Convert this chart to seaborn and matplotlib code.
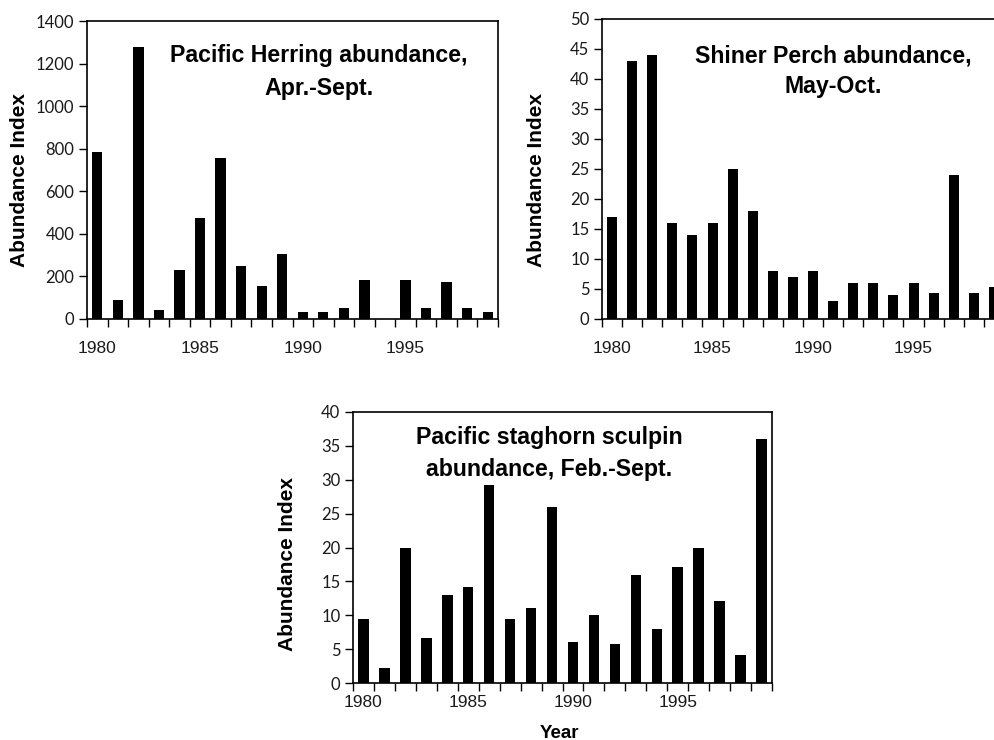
import numpy as np
import pandas as pd
import matplotlib
matplotlib.use("Agg")
import matplotlib.pyplot as plt
from matplotlib import font_manager
import seaborn as sns

years = list(range(1980, 2000))
herring = [785, 88, 1280, 41, 230, 475, 757, 248, 155, 306, 31, 31, 52, 182, 0, 182, 52, 174, 52, 31]
perch = [17, 43, 44, 16, 14, 16, 25, 18, 8, 7, 8, 3, 6, 6, 4, 6, 4.4, 24, 4.4, 5.4]
sculpin = [9.5, 2.2, 20, 6.6, 13, 14.1, 29.2, 9.5, 11, 26, 6, 10, 5.7, 16, 8, 17.1, 20, 12.1, 4.2, 36]

titles = [("Pacific Herring abundance,", "Apr.-Sept."),
          ("Shiner Perch abundance,", "May-Oct."),
          ("Pacific staghorn sculpin", "abundance, Feb.-Sept.")]
ylims = [(0, 1400, 200), (0, 50, 5), (0, 40, 5)]
label_years = [1980, 1985, 1990, 1995]

sns.set_style("ticks")
plt.rcParams["font.family"] = ["Lato", "DejaVu Sans"]
plt.rcParams["text.color"] = "black"
bold_font = ["Liberation Sans", "DejaVu Sans"]

installed = {f.name for f in font_manager.fontManager.ttflist}
if "Liberation Sans Narrow" in installed:
    xtick_font, xtick_size = "Liberation Sans Narrow", 14
else:
    xtick_font, xtick_size = "Liberation Sans", 12.5

fig = plt.figure(figsize=(9.95, 7.4), dpi=100)
rects = [
    [87 / 995, 1 - 319 / 740, 411 / 995, 298 / 740],
    [602 / 995, 1 - 319 / 740, 402 / 995, 300 / 740],
    [353 / 995, 1 - 683 / 740, 419 / 995, 271 / 740],
]
title_x = [319, 833, 549]
title_base = [(62, 95), (62, 93), (444, 476)]
ylab_pos = [(20, 180), (536, 180), (288, 564)]
xpads = [16, 16, 8.5]

for i, (vals, title, yl) in enumerate(zip([herring, perch, sculpin], titles, ylims)):
    ax = fig.add_axes(rects[i])
    df = pd.DataFrame({"Year": [str(y) for y in years], "Abundance": vals})
    sns.barplot(data=df, x="Year", y="Abundance", color="black", width=0.5,
                saturation=1, ax=ax, order=[str(y) for y in years])
    for p in ax.patches:
        p.set_edgecolor("none")
    ax.set_xlim(-0.5, len(years) - 0.5)
    ax.set_ylim(yl[0], yl[1])
    yt = np.arange(yl[0], yl[1] + 0.1, yl[2])
    ax.set_yticks(yt)
    ax.set_yticklabels([f"{v:g}" for v in yt])
    ax.set_xticks(np.arange(-0.5, len(years), 1))
    ax.set_xticklabels([])
    idx = [years.index(y) for y in label_years]
    ax.set_xticks(idx, minor=True)
    ax.set_xticklabels([str(y) for y in label_years], minor=True,
                       family=[xtick_font, "DejaVu Sans"], fontsize=xtick_size)
    ax.tick_params(axis="x", which="major", length=6, width=1, color="black", direction="out")
    ax.tick_params(axis="x", which="minor", length=0, pad=xpads[i], labelcolor="#1a1a1a")
    ax.tick_params(axis="y", length=6, width=1, color="black", labelsize=12, pad=3,
                   labelcolor="#1a1a1a")
    for s in ax.spines.values():
        s.set_visible(True)
        s.set_color("black")
        s.set_linewidth(1.2)
    ax.set_xlabel("")
    ax.set_ylabel("")
    fig.text(ylab_pos[i][0] / 995, 1 - ylab_pos[i][1] / 740, "Abundance Index", rotation=90,
             ha="center", va="center", fontsize=15, fontweight="bold", family=bold_font,
             color="black")
    for line, by in zip(title, title_base[i]):
        fig.text(title_x[i] / 995, 1 - by / 740, line, ha="center", va="baseline",
                 fontsize=16.7, fontweight="bold", family=bold_font, color="black")

fig.text(559 / 995, 1 - 733 / 740, "Year", ha="center", va="center",
         fontsize=13.5, fontweight="bold", family=bold_font, color="black")

fig.savefig("out.png", dpi=100)
